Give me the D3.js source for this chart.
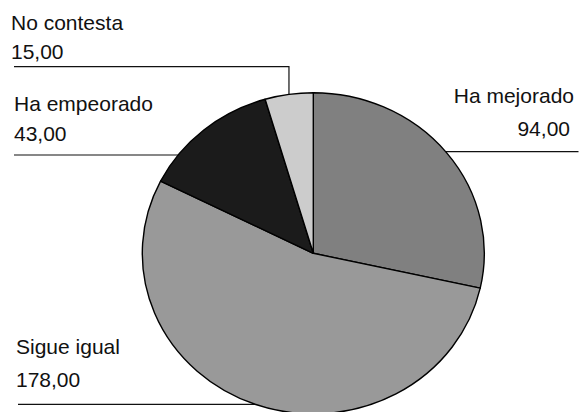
<!DOCTYPE html>
<html>
<head>
<meta charset="utf-8">
<script src="https://cdn.jsdelivr.net/npm/d3@7/dist/d3.min.js"></script>
<style>
  html, body { margin: 0; padding: 0; background: #fff; }
  svg { display: block; }
  text { font-family: "Liberation Sans", Arial, sans-serif; font-size: 21px; fill: #111; }
</style>
</head>
<body>
<svg id="chart" width="580" height="412"></svg>
<script>
// Respuestas por categoría
const categories = ["Ha mejorado", "Sigue igual", "Ha empeorado", "No contesta"];
const values = [94, 178, 43, 15];
const valueLabels = ["94,00", "178,00", "43,00", "15,00"];
const colors = ["#808080", "#999999", "#1b1b1b", "#cccccc"];

const W = 580, H = 412;
const cx = 313.3, cy = 253.3;
const r = 171;          // horizontal radius
const squash = 0.939;   // vertical / horizontal ratio of the pie

const svg = d3.select("#chart");

const data = categories.map((c, i) => ({ name: c, value: values[i], label: valueLabels[i], color: colors[i] }));

const pie = d3.pie().sort(null).value(d => d.value);
const arcs = pie(data);
const arc = d3.arc().innerRadius(0).outerRadius(r);

// Label layout: text anchor, text x, first baseline, leader line
const layout = {
  "Ha mejorado":  { anchor: "end",   x: [574, 570], y: [103.3, 136], line: { y: 151.7, x0: 578.5 } },
  "Sigue igual":  { anchor: "start", x: [16, 16],   y: [354.3, 386.7], line: { y: 404.3, x0: 18 } },
  "Ha empeorado": { anchor: "start", x: [14, 14],   y: [111, 141],   line: { y: 155, x0: 14 } },
  "No contesta":  { anchor: "start", x: [11, 11],   y: [30, 59],     line: { y: 66.7, x0: 14, elbow: true } }
};

// Leader lines sit under the pie; the slices hide their inner ends
const lines = svg.append("g").attr("stroke", "#111").attr("stroke-width", 1.2).attr("fill", "none");
arcs.forEach(a => {
  const L = layout[a.data.name].line;
  if (L.elbow) {
    const mid = (a.startAngle + a.endAngle) / 2;
    const xm = cx + r * Math.sin(mid);
    lines.append("path").attr("d", `M${L.x0},${L.y}H${xm}V${cy}`);
  } else {
    lines.append("path").attr("d", `M${L.x0},${L.y}H${cx}`);
  }
});

const g = svg.append("g").attr("transform", `translate(${cx},${cy}) scale(1,${squash})`);
g.selectAll("path.slice")
  .data(arcs)
  .join("path")
  .attr("class", "slice")
  .attr("d", arc)
  .attr("fill", d => d.data.color)
  .attr("stroke", "#000")
  .attr("stroke-width", 1.4)
  .attr("stroke-linejoin", "round")
  .attr("vector-effect", "non-scaling-stroke");

const labels = svg.append("g");
arcs.forEach(a => {
  const s = layout[a.data.name];
  labels.append("text").attr("x", s.x[0]).attr("y", s.y[0]).attr("text-anchor", s.anchor).text(a.data.name);
  labels.append("text").attr("x", s.x[1]).attr("y", s.y[1]).attr("text-anchor", s.anchor).text(a.data.label);
});
</script>
</body>
</html>
